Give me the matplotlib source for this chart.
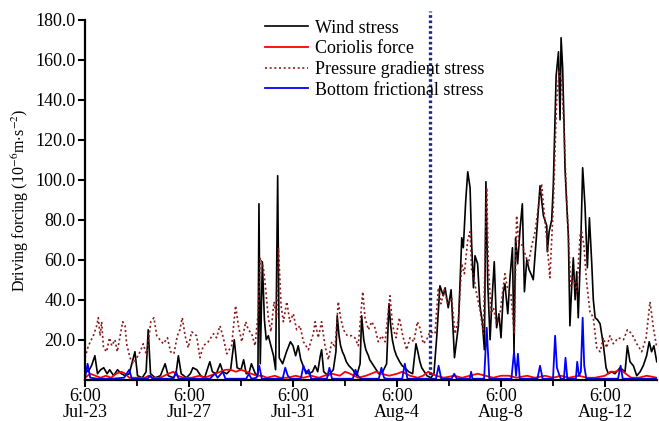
import matplotlib
matplotlib.use("Agg")
import matplotlib.pyplot as plt

plt.rcParams['font.family'] = ['Liberation Serif', 'DejaVu Serif']
plt.rcParams['mathtext.fontset'] = 'stix'

# time axis: days after Jul-23 6:00
tick_days = [0, 4, 8, 12, 16, 20]
tick_labels = ['6:00\nJul-23', '6:00\nJul-27', '6:00\nJul-31',
               '6:00\nAug-4', '6:00\nAug-8', '6:00\nAug-12']
event_day = 13.27

wind_t = [0.00, 0.12, 0.25, 0.38, 0.48, 0.6, 0.72, 0.85, 0.95, 1.1, 1.25, 1.4, 1.55, 1.7,
          1.92, 2.02, 2.2, 2.35, 2.43, 2.52, 2.7, 2.9, 3.08, 3.2, 3.4, 3.5, 3.59, 3.7, 3.9,
          4.05, 4.15, 4.3, 4.45, 4.6, 4.8, 4.9, 5.05, 5.2, 5.3, 5.45, 5.6, 5.74, 5.85, 6.0,
          6.1, 6.2, 6.32, 6.4, 6.55, 6.65, 6.69, 6.74, 6.82, 6.9, 6.97, 7.05, 7.15, 7.25,
          7.33, 7.41, 7.47, 7.6, 7.75, 7.9, 8.0, 8.1, 8.2, 8.3, 8.45, 8.6, 8.75, 8.85, 8.95,
          9.05, 9.1, 9.18, 9.35, 9.55, 9.65, 9.7, 9.77, 9.83, 9.9, 9.97, 10.05, 10.15, 10.3,
          10.45, 10.58, 10.64, 10.72, 10.8, 10.9, 10.95, 11.05, 11.15, 11.3, 11.45, 11.6,
          11.69, 11.75, 11.82, 11.9, 11.98, 12.1, 12.2, 12.3, 12.45, 12.6, 12.68, 12.73,
          12.8, 12.88, 12.95, 13.05, 13.15, 13.3, 13.42, 13.53, 13.65, 13.78, 13.85, 13.97,
          14.08, 14.21, 14.36, 14.49, 14.55, 14.64, 14.72, 14.81, 14.87, 14.94, 15.0, 15.1,
          15.19, 15.28, 15.36, 15.42, 15.49, 15.58, 15.64, 15.74, 15.83, 15.92, 16.0, 16.09,
          16.15, 16.26, 16.35, 16.44, 16.5, 16.56, 16.64, 16.73, 16.82, 16.9, 16.99, 17.08,
          17.15, 17.24, 17.37, 17.5, 17.63, 17.76, 17.78, 17.85, 17.95, 18.01, 18.12, 18.21,
          18.27, 18.31, 18.37, 18.42, 18.46, 18.53, 18.59, 18.65, 18.72, 18.78, 18.85, 18.91,
          18.97, 19.06, 19.14, 19.23, 19.32, 19.4, 19.49, 19.55, 19.62, 19.71, 19.81, 19.94,
          20.04, 20.13, 20.26, 20.38, 20.58, 20.77, 20.86, 20.96, 21.09, 21.22, 21.35, 21.47,
          21.6, 21.7, 21.79, 21.88, 21.99]
wind_v = [6, 4, 7, 12, 3, 5, 6, 3, 5, 2, 5, 3, 2, 3,
          14, 2, 1, 4, 25, 3, 1, 2, 8, 2, 1, 3, 12, 3, 1,
          3, 6, 5, 2, 1, 9, 4, 3, 8, 4, 3, 5, 20, 6, 5,
          10, 3, 4, 8, 3, 2, 88, 8, 59, 30, 20, 22, 17, 12,
          5, 102, 11, 8, 14, 19, 17, 12, 17, 10, 5, 3, 4, 7, 4,
          12, 15, 4, 2, 5, 14, 32, 22, 17, 14, 12, 9, 7, 5,
          2, 8, 32, 20, 15, 12, 10, 8, 6, 3, 4, 8,
          38, 28, 20, 15, 12, 9, 7, 6, 4, 3, 12, 18,
          14, 9, 6, 4, 2, 1, 3, 22, 47, 42, 46, 36,
          45, 11, 27, 71, 66, 89, 104, 96, 68, 46, 62, 58,
          37, 29, 15, 99, 48, 20, 37, 59, 26, 33, 21, 44,
          48, 33, 52, 66, 14, 71, 58, 75, 88, 44, 60, 55,
          53, 50, 73, 97, 82, 77, 64, 74, 80, 97, 152, 164,
          130, 171, 156, 130, 106, 87, 72, 27, 47, 61, 40, 54,
          31, 64, 106, 87, 56, 81, 58, 40, 31, 30, 28, 17,
          6, 3, 4, 3, 6, 4, 17, 9, 7, 2, 4, 7,
          12, 19, 14, 17, 9]

pres_t = [0.0, 0.13, 0.32, 0.45, 0.51, 0.58, 0.64, 0.71, 0.83, 0.94, 1.03, 1.15, 1.24,
          1.35, 1.45, 1.54, 1.6, 1.73, 1.86, 1.99, 2.12, 2.24, 2.37, 2.53, 2.65, 2.76,
          2.88, 3.01, 3.17, 3.29, 3.42, 3.55, 3.65, 3.74, 3.85, 3.97, 4.1, 4.29, 4.42,
          4.55, 4.74, 4.94, 5.06, 5.19, 5.32, 5.45, 5.64, 5.79, 5.9, 6.03, 6.18, 6.28,
          6.41, 6.54, 6.67, 6.74, 6.86, 6.95, 7.05, 7.15, 7.27, 7.37, 7.44, 7.54, 7.63,
          7.76, 7.88, 8.01, 8.14, 8.27, 8.4, 8.59, 8.78, 8.85, 8.97, 9.1, 9.23, 9.36,
          9.49, 9.62, 9.74, 9.83, 9.94, 10.09, 10.26, 10.38, 10.51, 10.68, 10.77, 10.9,
          11.03, 11.15, 11.28, 11.41, 11.54, 11.73, 11.83, 11.96, 12.09, 12.22, 12.37,
          12.5, 12.65, 12.78, 12.88, 13.01, 13.14, 13.27, 13.46, 13.59, 13.69, 13.82,
          13.95, 14.1, 14.23, 14.36, 14.49, 14.59, 14.72, 14.81, 14.87, 14.97, 15.06,
          15.19, 15.32, 15.45, 15.51, 15.62, 15.71, 15.83, 15.96, 16.15, 16.26, 16.38,
          16.51, 16.6, 16.69, 16.79, 16.92, 17.05, 17.18, 17.31, 17.44, 17.56, 17.67,
          17.78, 17.88, 18.01, 18.14, 18.24, 18.33, 18.42, 18.5, 18.59, 18.68, 18.78,
          18.91, 19.04, 19.1, 19.19, 19.29, 19.42, 19.55, 19.68, 19.81, 19.94, 20.06,
          20.19, 20.32, 20.51, 20.71, 20.86, 21.03, 21.22, 21.41, 21.58, 21.73, 21.86,
          21.99]
pres_v = [11, 17, 22, 27, 31, 22, 29, 16, 14, 21, 17, 20, 14,
          22, 29, 27, 18, 11, 8, 11, 14, 18, 12, 29, 31, 22,
          20, 18, 21, 14, 13, 22, 25, 31, 22, 16, 24, 22, 11,
          17, 19, 23, 21, 27, 21, 13, 17, 37, 27, 19, 29, 25,
          23, 17, 35, 61, 56, 45, 31, 24, 39, 31, 66, 37, 29,
          39, 29, 33, 25, 27, 19, 15, 23, 29, 21, 29, 17, 10,
          19, 16, 39, 31, 25, 22, 22, 21, 17, 44, 31, 25,
          29, 26, 19, 22, 19, 42, 27, 21, 31, 22, 15,
          21, 19, 29, 26, 18, 20, 24, 23, 46, 38, 45,
          38, 41, 23, 30, 58, 53, 70, 74, 55, 50, 43,
          35, 23, 96, 58, 33, 36, 28, 33, 53, 45, 43,
          23, 82, 67, 68, 63, 58, 67, 74, 87, 98, 82,
          67, 51, 87, 140, 154, 150, 127, 97, 72, 47, 51,
          44, 72, 74, 67, 49, 34, 31, 16, 14, 21, 16,
          22, 18, 21, 20, 25, 23, 18, 14, 21, 39, 26,
          16]

cor_t = [0, 0.2, 0.4, 0.6, 0.8, 1.0, 1.2, 1.4, 1.55, 1.7, 2.0, 2.3, 2.45, 2.6, 2.9, 3.2,
         3.4, 3.55, 3.8, 4.1, 4.4, 4.6, 4.8, 5.0, 5.2, 5.4, 5.6, 5.8, 6.0, 6.2, 6.4, 6.6,
         6.8, 7.0, 7.3, 7.5, 7.8, 8.1, 8.4, 8.7, 9.0, 9.2, 9.5, 9.8, 10.0, 10.2, 10.5,
         10.8, 11.0, 11.2, 11.4, 11.7, 12.0, 12.2, 12.5, 12.8, 13.0, 13.2, 13.35, 13.5,
         13.8, 14.2, 14.5, 14.8, 15.1, 15.4, 15.7, 16.0, 16.3, 16.6, 17.0, 17.3, 17.7,
         18.0, 18.3, 18.6, 19.0, 19.3, 19.6, 20.0, 20.2, 20.4, 20.6, 20.8, 21.0, 21.3,
         21.6, 22.0]
cor_v = [1, 3, 2, 1, 2, 1, 3, 4, 3, 1, 1, 1, 2, 1, 1, 3,
         4, 2, 1, 1, 2, 1, 2, 3, 4, 5, 5, 4, 5, 4, 3, 2,
         2, 1, 2, 1, 1, 2, 1, 2, 1, 2, 3, 2, 4, 3, 1,
         2, 3, 4, 3, 2, 3, 4, 2, 1, 2, 4, 3, 2,
         1, 2, 1, 2, 3, 2, 1, 2, 2, 1, 2, 1, 2,
         1, 2, 1, 2, 1, 1, 2, 4, 4, 5, 3, 1, 1,
         2, 1]

bot_t = [0, 0.1, 0.2, 0.5, 1.0, 1.5, 1.7, 1.8, 2.4, 2.5, 2.6, 3.4, 3.5, 3.6, 4.8, 5.0,
         5.1, 5.3, 5.4, 6.2, 6.3, 6.4, 6.6, 6.7, 6.8, 7.6, 7.7, 7.8, 7.9, 8.3, 8.4, 8.5,
         8.6, 8.7, 9.3, 9.4, 9.5, 10.3, 10.4, 10.5, 10.6, 11.3, 11.4, 11.5, 11.6, 12.2,
         12.3, 12.4, 13.5, 13.6, 13.7, 14.1, 14.2, 14.3, 14.8, 14.85, 14.9, 15.35, 15.45,
         15.55, 16.4, 16.5, 16.58, 16.65, 16.72, 17.4, 17.5, 17.6, 18.0, 18.08, 18.15,
         18.25, 18.3, 18.42, 18.48, 18.55, 18.88, 18.93, 19.0, 19.07, 19.14, 19.2, 19.28,
         20.5, 20.6, 20.68, 22.0]
bot_v = [1, 8, 1, 0.5, 0.5, 1, 5, 0.5, 0.5, 2, 0.5, 0.5, 4, 0.5, 0.5, 3,
         1, 4, 0.5, 0.5, 3, 0.5, 1, 7, 0.5, 0.5, 6, 2, 0.5, 0.5, 7, 3,
         5, 0.5, 0.5, 6, 0.5, 0.5, 5, 2, 0.5, 0.5, 6, 1, 0.5, 0.5,
         8, 0.5, 0.5, 7, 0.5, 0.5, 3, 0.5, 0.5, 4, 0.5, 0.5, 26,
         0.5, 0.5, 14, 2, 13, 0.5, 0.5, 7, 0.5, 0.5, 22, 6,
         2, 0.5, 0.5, 11, 0.5, 0.5, 9, 2, 4, 31, 7, 0.5,
         0.5, 7, 0.5, 0.5]

fig = plt.figure(figsize=(6.59, 4.21), dpi=100)
ax = fig.add_axes([0.129, 0.098, 0.868, 0.855])

ax.plot(wind_t, wind_v, color='black', lw=1.2, label='Wind stress')
ax.plot(cor_t, cor_v, color='red', lw=1.3, label='Coriolis force')
ax.plot(pres_t, pres_v, color='#8b1a1a', lw=1.2, ls=(0, (1.2, 1.6)),
        label='Pressure gradient stress')
ax.plot(bot_t, bot_v, color='blue', lw=1.3, label='Bottom frictional stress')
ax.axvline(event_day, ymin=0, ymax=1.025, color='#1a2a80', lw=2.4,
           ls=(0, (0.8, 0.8)), clip_on=False)

ax.set_xlim(0, 22)
ax.set_ylim(0, 180)
ax.set_yticks(range(20, 181, 20))
ax.set_yticklabels(['%.1f' % v for v in range(20, 181, 20)], fontsize=13)
ax.set_xticks(tick_days)
ax.set_xticklabels(tick_labels, fontsize=13, linespacing=0.95)
ax.set_xticks([2, 6, 10, 14, 18], minor=True)
ax.set_ylabel(r'Driving forcing (10$^{-6}$m$\cdot$s$^{-2}$)', fontsize=11.5, labelpad=3)

for s in ['top', 'right']:
    ax.spines[s].set_visible(False)
for s in ['left', 'bottom']:
    ax.spines[s].set_linewidth(1.6)
ax.tick_params(axis='both', which='major', direction='out', length=5, width=1.5, pad=2)
ax.tick_params(axis='x', which='major', pad=1)
ax.tick_params(axis='x', which='minor', direction='out', length=4, width=1.3)

ax.legend(loc='upper left', bbox_to_anchor=(0.302, 1.02), frameon=False, fontsize=13,
          handlelength=2.4, labelspacing=0.2, handletextpad=0.35, borderaxespad=0)

plt.savefig('out.png', dpi=100)
